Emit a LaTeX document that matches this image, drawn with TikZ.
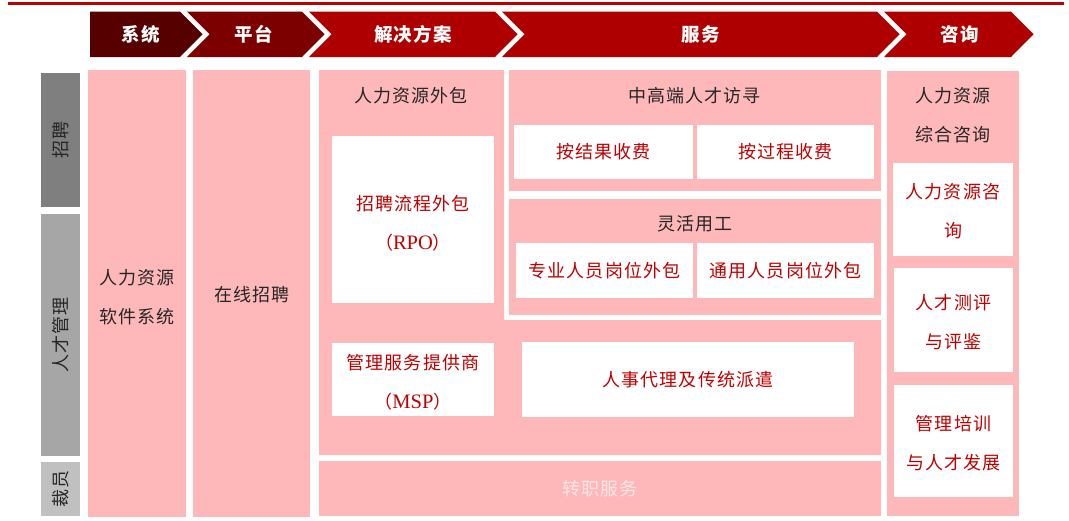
\documentclass[tikz,border=0pt]{standalone}
\usepackage{fontspec}
\newfontfamily\cjk[LetterSpace=6]{Noto Sans CJK SC}
\newfontfamily\lser{Liberation Serif}
\usetikzlibrary{fit}
\definecolor{pinkbg}{HTML}{FFB8BA}
\definecolor{redtxt}{HTML}{C00000}
\definecolor{blktxt}{HTML}{262626}
\definecolor{hdrA}{HTML}{560000}
\definecolor{hdrB}{HTML}{7C0000}
\definecolor{hdrC}{HTML}{AE0000}
\definecolor{lineR}{HTML}{C00000}
\definecolor{grayA}{HTML}{7F7F7F}
\definecolor{grayB}{HTML}{A6A6A6}
\definecolor{grayC}{HTML}{C0C0C0}
\definecolor{fadetxt}{HTML}{FFE6E7}
\newcommand\latn[1]{{\lser\fontsize{20.5}{39}\selectfont #1}}
\begin{document}
\begin{tikzpicture}[x=1pt,y=-1pt,
  blk/.style={fill=pinkbg, draw=none, inner sep=0pt},
  wbox/.style={fill=white, draw=none, inner sep=0pt},
  gbox/.style={draw=none, inner sep=0pt},
  base/.style={font=\cjk\fontsize{18}{39}\selectfont, align=center, inner sep=0pt},
  rtxt/.style={base, text=redtxt},
  ktxt/.style={base, text=blktxt},
  hdr/.style={font=\cjk\bfseries\fontsize{18.5}{20}\selectfont, text=white, inner sep=0pt},
  vlab/.style={base, text=blktxt, rotate=90}
]
\useasboundingbox (0,0) rectangle (1069,520);

% top rule
\coordinate (tl) at (8,3.5);
\coordinate (tr) at (1064,3.5);
\draw[lineR, line width=2.6pt] (tl) -- (tr);

% header chevrons
\fill[hdrA] (90,11.5) -- (180,11.5) -- (202.5,34.25) -- (180,57) -- (90,57) -- cycle;
\fill[hdrB] (187,11.5) -- (302,11.5) -- (324.5,34.25) -- (302,57) -- (187,57) -- (209.5,34.25) -- cycle;
\fill[hdrC] (309,11.5) -- (495,11.5) -- (517.5,34.25) -- (495,57) -- (309,57) -- (331.5,34.25) -- cycle;
\fill[hdrC] (502,11.5) -- (877,11.5) -- (899.5,34.25) -- (877,57) -- (502,57) -- (524.5,34.25) -- cycle;
\fill[hdrC] (884,11.5) -- (1011,11.5) -- (1033.5,34.25) -- (1011,57) -- (884,57) -- (906.5,34.25) -- cycle;
\node[hdr] (h1) at (141,34.5) {系统};
\node[hdr] (h2) at (254,34.5) {平台};
\node[hdr] (h3) at (413,34.5) {解决方案};
\node[hdr] (h4) at (701,34.5) {服务};
\node[hdr] (h5) at (960,34.5) {咨询};

% left gray labels
\node[gbox, fill=grayA, fit={(41,73)(80,207)}] (g1) {};
\node[gbox, fill=grayB, fit={(41,214)(80,456)}] (g2) {};
\node[gbox, fill=grayC, fit={(41,462)(80,516)}] (g3) {};
\node[vlab] at (g1.center) {招聘};
\node[vlab] at (g2.center) {人才管理};
\node[vlab] at (g3.center) {裁员};

% system / platform columns
\node[blk, fit={(88,70)(186,517)}] (col1) {};
\node[ktxt] (t1) at (137,297) {人力资源\\软件系统};
\node[blk, fit={(193,70)(310,517)}] (col2) {};
\node[ktxt] (t2) at (252,295) {在线招聘};

% solutions L-shaped area
\fill[pinkbg] (319,70) -- (504,70) -- (504,320) -- (881,320) -- (881,455) -- (319,455) -- cycle;
\node[ktxt] (hro) at (411,96) {人力资源外包};
\node[wbox, fit={(332,136)(494,303)}] (rpo) {};
\node[rtxt] (rpot) at (413,223) {招聘流程外包\\（\latn{RPO}）};
\node[wbox, fit={(332,343)(494,416)}] (msp) {};
\node[rtxt] (mspt) at (413,382) {管理服务提供商\\（\latn{MSP}）};
\node[wbox, fit={(522,342)(854,417)}] (agency) {};
\node[rtxt] at (agency.center) {人事代理及传统派遣};

% executive search
\node[blk, fit={(508.7,70)(880.7,191)}] (hi) {};
\node[ktxt] (hit) at (694.7,96) {中高端人才访寻};
\node[wbox, fit={(514,125)(693,179)}] (res) {};
\node[rtxt] at (res.center) {按结果收费};
\node[wbox, fit={(697,125)(874,179)}] (proc) {};
\node[rtxt] at (proc.center) {按过程收费};

% flexible staffing
\node[blk, fit={(508.7,199)(880.7,315)}] (flex) {};
\node[ktxt] (flext) at (694.7,224) {灵活用工};
\node[wbox, fit={(516,243)(693,298)}] (pro) {};
\node[rtxt] at (pro.center) {专业人员岗位外包};
\node[wbox, fit={(697,243)(874,298)}] (gen) {};
\node[rtxt] at (gen.center) {通用人员岗位外包};

% outplacement
\node[blk, fit={(319,461)(881,516)}] (trans) {};
\node[base, text=fadetxt] at (trans.center) {转职服务};

% consulting
\node[blk, fit={(887,71)(1019,516)}] (cons) {};
\node[ktxt] (const) at (953,115.5) {人力资源\\综合咨询};
\node[wbox, fit={(893,163)(1013,256)}] (c1) {};
\node[rtxt] at (953,211.5) {人力资源咨\\询};
\node[wbox, fit={(894,268)(1013,372)}] (c2) {};
\node[rtxt] at (953.5,322) {人才测评\\与评鉴};
\node[wbox, fit={(894,385)(1013,497)}] (c3) {};
\node[rtxt] at (953.5,443.5) {管理培训\\与人才发展};
\end{tikzpicture}
\end{document}
